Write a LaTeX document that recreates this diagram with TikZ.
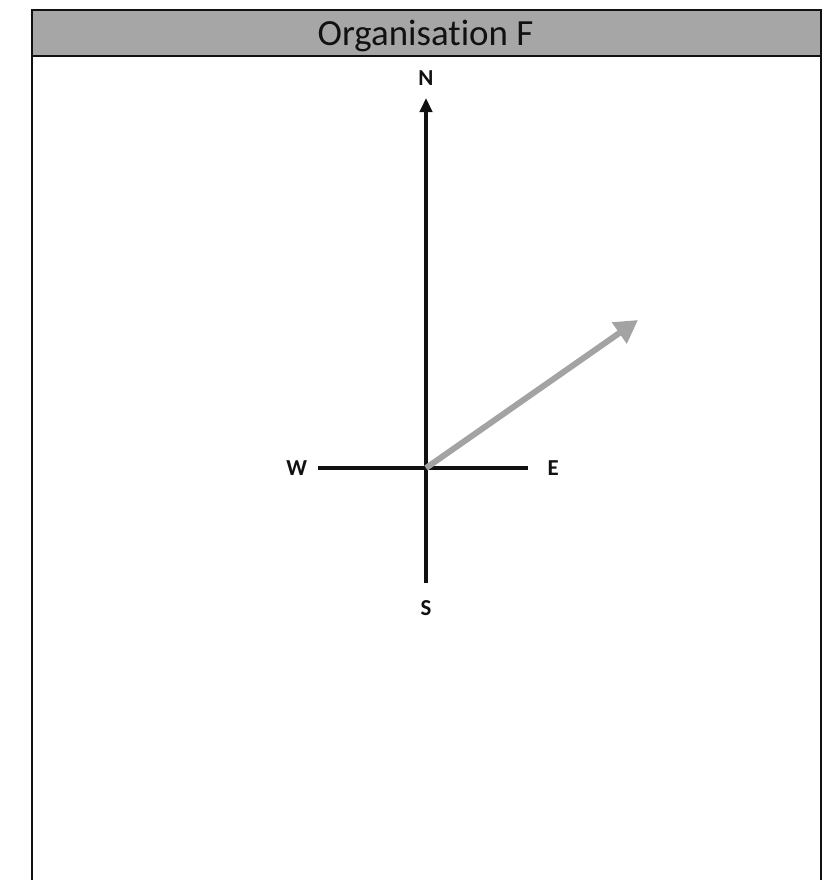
\documentclass[tikz,border=0pt]{standalone}
\usepackage{fontspec}
\setmainfont[Ligatures=NoCommon]{Carlito}
\usetikzlibrary{arrows.meta,positioning}
\definecolor{headgrey}{HTML}{A6A6A6}
\definecolor{bearing}{HTML}{A3A3A3}
\definecolor{ink}{HTML}{111111}
\tikzset{
  >={Triangle[length=8pt,width=7pt]},
  frame/.style={draw=ink, line width=1.4pt},
  axis/.style={draw=ink, line width=2.1pt},
  lab/.style={font=\fontsize{13}{15}\selectfont\bfseries, text=ink, inner sep=0pt},
}

\begin{document}
\begin{tikzpicture}[x=0.02cm, y=-0.02cm]
\useasboundingbox (0,0) rectangle (835,880);

% ---------------- frame and title bar ----------------
\fill[headgrey] (32,10) rectangle (821,56);
\draw[frame] (32,884) -- (32,10) -- (821,10) -- (821,884);
\draw[frame] (32,56) -- (821,56);
\node[font=\fontsize{21}{24}\selectfont, text=ink] (title) at (425.5,36) {Organisation F};

% ---------------- compass ----------------
\coordinate (O) at (426,468);
\coordinate (ntip) at (426,98);
\coordinate (stip) at (426,583);
\coordinate (wtip) at (318,468);
\coordinate (etip) at (528,468);
\node[lab, above=7pt of ntip] (N) {N};
\node[lab, below=10pt of stip] (S) {S};
\node[lab, left=6pt of wtip] (W) {W};
\node[lab, right=11pt of etip] (E) {E};

\draw[axis, ->] (stip) -- (ntip);
\draw[axis] (wtip) -- (etip);

% bearing of the organisation
\coordinate (head) at (638,320);
\draw[bearing, line width=3.4pt, -{Triangle[length=13pt,width=14pt]}] (O) -- (head);

\end{tikzpicture}
\end{document}
